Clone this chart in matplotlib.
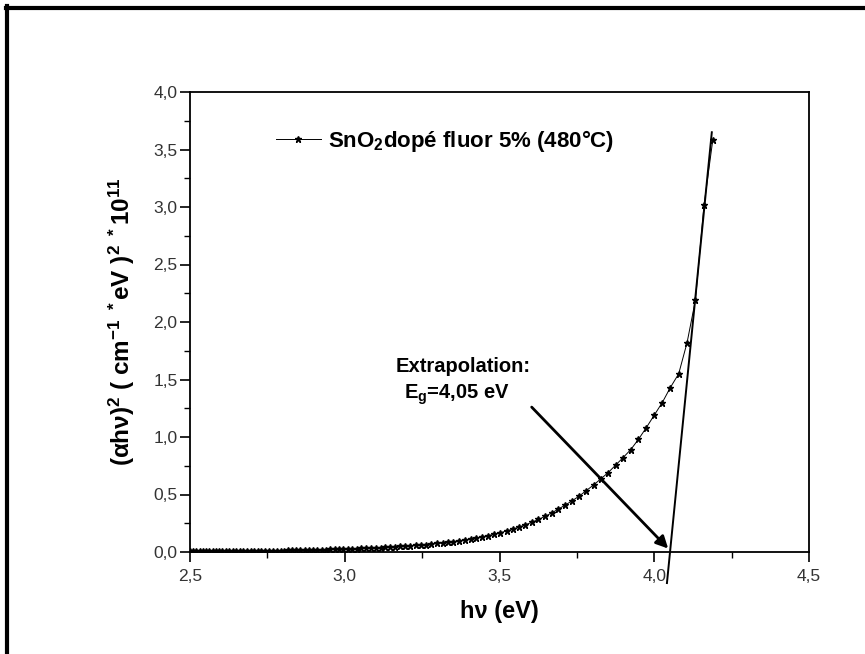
import matplotlib
matplotlib.use("Agg")
import matplotlib.pyplot as plt
from matplotlib.lines import Line2D
from matplotlib.ticker import MultipleLocator, FuncFormatter

plt.rcParams['font.family'] = ['Liberation Sans', 'DejaVu Sans']
plt.rcParams['mathtext.fontset'] = 'custom'
plt.rcParams['mathtext.rm'] = 'Liberation Sans'
plt.rcParams['mathtext.bf'] = 'Liberation Sans:bold'
plt.rcParams['mathtext.it'] = 'Liberation Sans:italic'

# photon energy (eV) and (alpha h nu)^2 * 1e-11
energy = [4.189, 4.161, 4.133, 4.106, 4.079, 4.052, 4.026, 4.000, 3.974, 3.949,
          3.924, 3.899, 3.875, 3.851, 3.827, 3.804, 3.780, 3.758, 3.735, 3.713,
          3.690, 3.669, 3.647, 3.626, 3.605, 3.584, 3.563, 3.543, 3.523, 3.503,
          3.483, 3.464, 3.444, 3.425, 3.407, 3.388, 3.370, 3.351, 3.333, 3.316,
          3.298, 3.280, 3.263, 3.246, 3.229, 3.212, 3.196, 3.179, 3.163, 3.147,
          3.131, 3.116, 3.100, 3.085, 3.069, 3.054, 3.039, 3.024, 3.010, 2.995,
          2.981, 2.967, 2.952, 2.938, 2.925, 2.911, 2.897, 2.884, 2.870, 2.857,
          2.844, 2.831, 2.818, 2.805, 2.793, 2.780, 2.768, 2.756, 2.743, 2.731,
          2.719, 2.707, 2.696, 2.684, 2.672, 2.661, 2.650, 2.638, 2.627, 2.616,
          2.605, 2.594, 2.583, 2.573, 2.562, 2.551, 2.541, 2.531, 2.520, 2.510,
          2.500]
absorb = [3.58, 3.02, 2.19, 1.82, 1.55, 1.43, 1.30, 1.19, 1.08, 0.98,
          0.89, 0.82, 0.755, 0.69, 0.635, 0.583, 0.533, 0.487, 0.446, 0.409,
          0.373, 0.340, 0.310, 0.283, 0.259, 0.237, 0.217, 0.199, 0.183, 0.168,
          0.155, 0.143, 0.132, 0.122, 0.113, 0.105, 0.098, 0.091, 0.085, 0.079,
          0.074, 0.069, 0.065, 0.061, 0.057, 0.054, 0.051, 0.048, 0.045, 0.043,
          0.040, 0.038, 0.036, 0.034, 0.032, 0.031, 0.029, 0.028, 0.026, 0.025,
          0.024, 0.023, 0.022, 0.021, 0.020, 0.019, 0.018, 0.017, 0.016, 0.016,
          0.015, 0.014, 0.014, 0.013, 0.013, 0.012, 0.012, 0.011, 0.011, 0.010,
          0.010, 0.010, 0.009, 0.009, 0.009, 0.008, 0.008, 0.008, 0.008, 0.007,
          0.007, 0.007, 0.007, 0.007, 0.006, 0.006, 0.006, 0.006, 0.006, 0.006,
          0.006]

# linear fit used for the extrapolation
fit_x = [4.041, 4.186]
fit_y = [-0.27, 3.65]
arrow_from = (3.604, 1.26)
arrow_to = (4.045, 0.03)

fig = plt.figure(figsize=(8.65, 6.54), dpi=100)
ax = fig.add_axes([190/865, 1-552/654, 619/865, 460/654])

ax.plot(energy, absorb, color='black', lw=0.7, marker='*', ms=5,
        label='SnO$_{\\mathbf{2}}$dopé fluor 5% (480°C)')
ax.plot(fit_x, fit_y, color='black', lw=1.4, clip_on=False)

ax.annotate('', xy=arrow_to, xytext=arrow_from,
            arrowprops=dict(arrowstyle='-|>', color='black', lw=2,
                            mutation_scale=18, shrinkA=0, shrinkB=0))
ax.text(3.382, 1.61, 'Extrapolation:', fontsize=14.5, fontweight='bold', ha='center', va='center')
ax.text(3.363, 1.365, '$\\mathbf{E_g}$=4,05 eV', fontsize=14.5, fontweight='bold', ha='center', va='center')

ax.set_xlim(2.5, 4.5)
ax.set_ylim(0, 4.0)
ax.xaxis.set_major_locator(MultipleLocator(0.5))
ax.xaxis.set_minor_locator(MultipleLocator(0.25))
ax.yaxis.set_major_locator(MultipleLocator(0.5))
ax.yaxis.set_minor_locator(MultipleLocator(0.25))
comma = FuncFormatter(lambda v, p: ('%.1f' % v).replace('.', ','))
ax.xaxis.set_major_formatter(comma)
ax.yaxis.set_major_formatter(comma)
ax.tick_params(which='major', direction='out', length=7, width=1.2, labelsize=12.5,
               labelcolor='#333333', top=False, right=False, pad=2)
ax.tick_params(which='minor', direction='out', length=4, width=1.0, top=False, right=False)
ax.tick_params(axis='x', pad=5)
for s in ax.spines.values():
    s.set_linewidth(1.3)

ax.set_xlabel('h\u03bd (eV)', fontsize=17, fontweight='bold', labelpad=12)
ax.set_ylabel('$\\mathbf{(\u03b1h\u03bd)^2\\ (\\ cm^{-1}\\ {}^*eV\\ )^2\\ {}^*10^{11}}$',
              fontsize=17.5, labelpad=12)

ax.legend(loc='center left', bbox_to_anchor=(0.125, 0.893), frameon=False,
          handlelength=2.0, prop={'weight': 'bold', 'size': 16},
          borderaxespad=0, handletextpad=0.35)

# frame pieces at left and top edge
fig.add_artist(Line2D([7.5/865, 7.5/865], [0, 1-5.5/654], transform=fig.transFigure,
                      color='black', lw=3))
fig.add_artist(Line2D([6/865, 1], [1-7.5/654, 1-7.5/654], transform=fig.transFigure,
                      color='black', lw=3))

fig.savefig('out.png', dpi=100)
